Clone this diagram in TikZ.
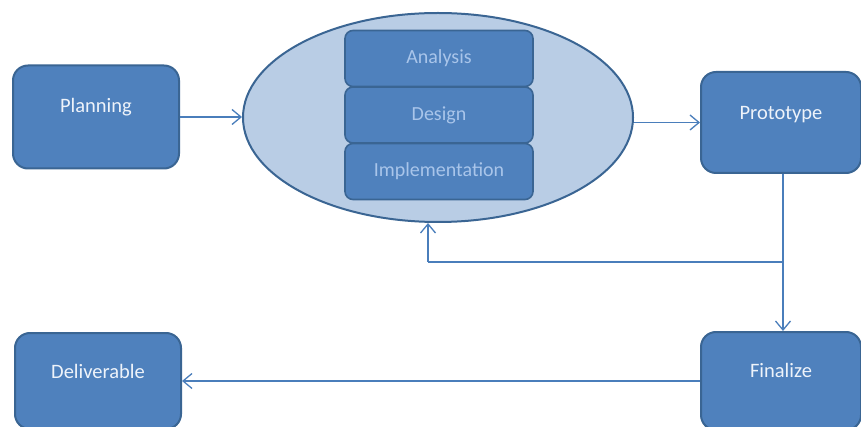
\documentclass[tikz,border=0pt]{standalone}
\usepackage{fontspec}
\setmainfont{Carlito}
\usetikzlibrary{shapes.geometric,arrows.meta}
\definecolor{boxfill}{HTML}{4F81BD}
\definecolor{boxline}{HTML}{3A6593}
\definecolor{ellfill}{HTML}{B9CDE5}
\definecolor{connclr}{HTML}{4A7EBB}
\definecolor{outtext}{HTML}{EEF3FA}
\definecolor{intext}{HTML}{A9C5EA}
\tikzset{
  stagebox/.style={rectangle, rounded corners=15pt, draw=boxline, line width=2pt,
    fill=boxfill, inner sep=0pt},
  phasebox/.style={rectangle, rounded corners=8pt, draw=boxline, line width=1.6pt,
    fill=boxfill, inner sep=0pt, minimum width=188pt, minimum height=56pt,
    text=intext, font=\fontsize{20}{24}\selectfont},
  caption/.style={text=outtext, font=\fontsize{20.5}{24}\selectfont},
  conn/.style={draw=connclr, line width=1.4pt,
    -{Straight Barb[length=9pt,width=15pt,line width=1.3pt]}},
  plain/.style={draw=connclr, line width=1.4pt}
}
\begin{document}
\begin{tikzpicture}[x=1pt,y=-1pt]
\useasboundingbox (0,0) rectangle (861,427);
\clip (0,0) rectangle (861,427);
\fill[white] (0,0) rectangle (861,427);

% outer stages
\node[stagebox, minimum width=166pt, minimum height=103pt,
      label={[caption, anchor=center, yshift=-43pt]north:Planning}] (plan) at (96,117) {};
\node[stagebox, minimum width=160pt, minimum height=101pt,
      label={[caption, anchor=center, yshift=-44pt]north:Prototype}] (proto) at (781,122.5) {};
\node[stagebox, minimum width=160pt, minimum height=98pt,
      label={[caption, anchor=center, yshift=-39pt]north:Finalize}] (final) at (781,381) {};
\node[stagebox, minimum width=166pt, minimum height=96pt,
      label={[caption, anchor=center, yshift=-39pt]north:Deliverable}] (deliv) at (98,381) {};

% iterative cycle
\node[ellipse, draw=boxline, line width=2pt, fill=ellfill, inner sep=0pt,
      minimum width=390pt, minimum height=209pt] (ell) at (438,117.5) {};
\node[phasebox] (analysis) at (439,58.5) {Analysis};
\node[phasebox] (design) at (439,115) {Design};
\node[phasebox] (impl) at (439,171.5) {Implementation};

% connectors
\coordinate (split) at (783,262);
\coordinate (back) at (428,262);
\draw[conn] (plan.east) -- (plan.east -| ell.west);
\draw[conn] (ell.east |- proto.west) -- (proto.west);
\draw[conn] (split |- proto.south) -- (split) -- (split |- final.north);
\draw[plain] (split) -- (back);
\draw[conn] (back) -- (back |- ell.south);
\draw[conn] (final.west) -- (deliv.east);
\end{tikzpicture}
\end{document}
